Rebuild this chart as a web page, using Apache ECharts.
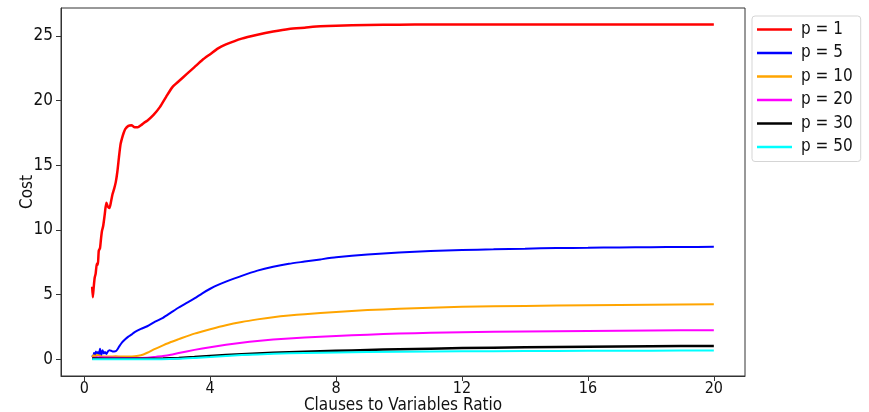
<!DOCTYPE html>
<html>
<head>
<meta charset="utf-8">
<script src="https://cdn.jsdelivr.net/npm/echarts@6/dist/echarts.min.js"></script>
<style>html,body{margin:0;padding:0;background:#fff}#chart{width:869px;height:412px}</style>
</head>
<body>
<div id="chart"></div>
<script>
const seriesNames = ['p = 1', 'p = 5', 'p = 10', 'p = 20', 'p = 30', 'p = 50'];
const xTicks = [0, 4, 8, 12, 16, 20];
const yTicks = [0, 5, 10, 15, 20, 25];

const p1X = [0.25,0.27,0.3,0.33,0.36,0.4,0.43,0.46,0.5,0.53,0.56,0.6,0.65,0.7,0.75,0.8,0.85,0.9,0.95,1.0,1.05,1.1,1.15,1.2,1.25,1.3,1.4,1.5,1.6,1.7,1.8,1.9,2.0,2.2,2.4,2.6,2.8,3.0,3.25,3.5,3.75,4.0,4.25,4.5,5.0,5.5,6.0,6.5,7.0,7.5,8.0,9,10,11,12,13,14,15,16,17,18,19,20];
const p1Y = [5.6,4.8,5.6,6.3,6.6,7.4,7.3,8.4,8.6,9.3,9.9,10.3,11.2,12.1,11.8,11.7,12.2,12.8,13.2,13.7,14.5,15.6,16.6,17.1,17.5,17.8,18.05,18.1,17.95,17.95,18.1,18.3,18.45,18.9,19.5,20.3,21.05,21.5,22.05,22.6,23.15,23.6,24.05,24.35,24.8,25.1,25.35,25.55,25.65,25.75,25.8,25.85,25.88,25.9,25.9,25.9,25.9,25.9,25.9,25.9,25.9,25.9,25.9];

const p5X = [0.25,0.28,0.31,0.34,0.37,0.4,0.43,0.46,0.5,0.54,0.58,0.62,0.66,0.7,0.75,0.8,0.85,0.9,0.95,1.0,1.05,1.1,1.2,1.3,1.4,1.5,1.6,1.8,2.0,2.25,2.5,2.75,3.0,3.25,3.5,3.75,4.0,4.25,4.5,5.0,5.5,6.0,6.5,7.0,7.5,8.0,9,10,11,12,13,14,15,16,17,18,19,20];
const p5Y = [0.3,0.15,0.5,0.2,0.6,0.25,0.55,0.3,0.8,0.3,0.7,0.45,0.55,0.4,0.6,0.7,0.65,0.6,0.6,0.62,0.75,0.95,1.3,1.55,1.75,1.9,2.1,2.35,2.55,2.9,3.2,3.6,4.0,4.35,4.7,5.1,5.45,5.75,6.0,6.45,6.85,7.15,7.38,7.55,7.72,7.88,8.1,8.25,8.38,8.45,8.5,8.55,8.6,8.62,8.65,8.67,8.68,8.7];

const p10X = [0.25,0.3,0.35,0.4,0.5,0.6,0.8,1.0,1.2,1.4,1.6,1.8,2.0,2.25,2.5,2.75,3.0,3.5,4.0,4.5,5.0,5.5,6.0,6.5,7.0,8.0,9,10,11,12,14,16,18,20];
const p10Y = [0.15,0.3,0.2,0.35,0.25,0.2,0.2,0.22,0.2,0.2,0.22,0.3,0.5,0.8,1.07,1.33,1.55,1.98,2.32,2.63,2.88,3.08,3.25,3.38,3.48,3.65,3.8,3.9,3.98,4.05,4.12,4.18,4.22,4.25];

const p20X = [0.25,0.5,1.0,1.5,2.0,2.25,2.5,2.75,3.0,3.5,4.0,4.5,5.0,5.5,6.0,6.5,7.0,8.0,9,10,11,12,14,16,18,20];
const p20Y = [0.1,0.15,0.12,0.1,0.12,0.18,0.25,0.35,0.48,0.72,0.93,1.12,1.28,1.41,1.52,1.6,1.67,1.8,1.9,1.98,2.04,2.09,2.15,2.19,2.22,2.24];

const p30X = [0.25,1,2,2.5,3,3.5,4,5,6,7,8,9,10,12,14,16,18,20];
const p30Y = [0.05,0.03,0.03,0.05,0.1,0.17,0.25,0.38,0.5,0.58,0.65,0.71,0.77,0.86,0.92,0.96,1.0,1.03];

const p50X = [0.25,1,2,3,3.5,4,4.5,5,6,7,8,10,12,14,16,18,20];
const p50Y = [0.0,0.0,0.0,0.04,0.1,0.17,0.25,0.32,0.42,0.48,0.52,0.58,0.61,0.63,0.65,0.66,0.67];

const colors = ['#ff0000', '#0000ff', '#ffa500', '#ff00ff', '#000000', '#00ffff'];
const widths = [2.5, 2, 2, 2, 2.5, 2];
const allX = [p1X, p5X, p10X, p20X, p30X, p50X];
const allY = [p1Y, p5Y, p10Y, p20Y, p30Y, p50Y];

const FONT = "'DejaVu Sans Condensed', 'DejaVu Sans', sans-serif";

const chart = echarts.init(document.getElementById('chart'), null, {renderer: 'canvas'});
chart.setOption({
  animation: false,
  backgroundColor: '#fff',
  grid: {left: 61, right: 124, top: 8, bottom: 36, show: true, borderColor: '#333', borderWidth: 1,
         containLabel: false, outerBoundsMode: 'none'},
  legend: {
    orient: 'vertical', left: 752, top: 16,
    data: seriesNames,
    icon: 'rect',
    itemWidth: 35, itemHeight: 2.5, itemGap: 4.5,
    padding: [4, 8, 5, 5],
    backgroundColor: '#fff', borderColor: '#d5d5d5', borderWidth: 1, borderRadius: 3,
    textStyle: {fontSize: 17, lineHeight: 19, color: '#111', fontFamily: FONT, padding: [0, 0, 0, 4]}
  },
  xAxis: {
    type: 'value', min: -0.74, max: 20.99,
    name: 'Clauses to Variables Ratio', nameLocation: 'middle', nameGap: 21, nameMoveOverlap: false,
    nameTextStyle: {fontSize: 17, color: '#111', fontFamily: FONT},
    axisLine: {show: true, onZero: false, lineStyle: {color: '#333'}},
    axisTick: {show: true, length: 5, inside: false, lineStyle: {color: '#333'}, customValues: xTicks},
    axisLabel: {fontSize: 16, color: '#111', fontFamily: FONT, margin: 5, customValues: xTicks},
    splitLine: {show: false}
  },
  yAxis: {
    type: 'value', min: -1.3, max: 27.17,
    name: 'Cost', nameLocation: 'middle', nameGap: 25, nameMoveOverlap: false,
    nameTextStyle: {fontSize: 17, color: '#111', fontFamily: FONT},
    axisLine: {show: true, onZero: false, lineStyle: {color: '#333'}},
    axisTick: {show: true, length: 5, inside: false, lineStyle: {color: '#333'}, customValues: yTicks},
    axisLabel: {fontSize: 17, color: '#111', fontFamily: FONT, margin: 8, customValues: yTicks},
    splitLine: {show: false}
  },
  series: seriesNames.map((name, i) => ({
    name: name, type: 'line', symbol: 'none', smooth: 0.2,
    lineStyle: {color: colors[i], width: widths[i]},
    itemStyle: {color: colors[i]},
    data: allX[i].map((x, j) => [x, allY[i][j]])
  }))
});
</script>
</body>
</html>
